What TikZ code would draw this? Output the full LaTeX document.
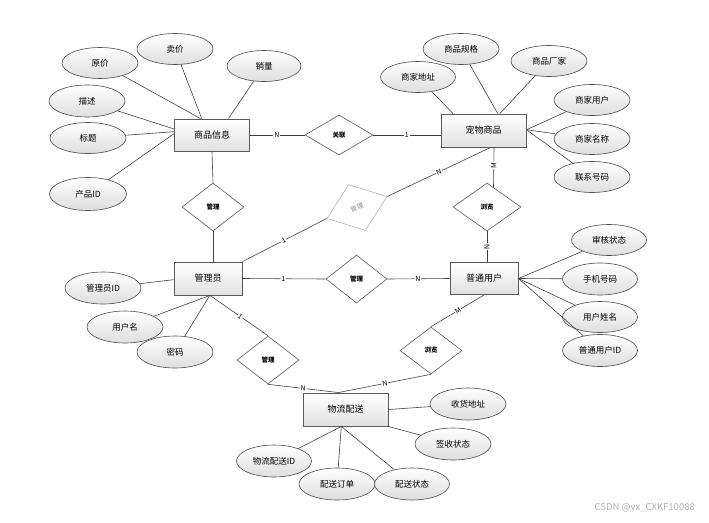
\documentclass[tikz,border=0pt]{standalone}
\usepackage{fontspec}
\setmainfont{Noto Sans CJK SC}
\usetikzlibrary{shapes.geometric,calc}
\begin{document}
\begin{tikzpicture}[x=1pt,y=-1pt,
 ent/.style={rectangle, draw=black!65, line width=0.9pt, top color=white, bottom color=black!12, minimum width=75pt, minimum height=32pt, inner sep=0pt, font=\fontsize{9}{10}\selectfont},
 attr/.style={ellipse, draw=black!70, line width=0.6pt, top color=white, bottom color=black!13, minimum width=76pt, minimum height=31pt, inner sep=0pt, font=\fontsize{8.5}{10}\selectfont},
 rel/.style={diamond, draw=black!65, line width=0.6pt, fill=white, minimum width=62pt, minimum height=48pt, inner sep=0pt, font=\fontsize{6.5}{8}\selectfont\bfseries},
 link/.style={draw=black!75, line width=0.6pt},
 card/.style={fill=white, inner sep=0.8pt, font=\fontsize{7}{8}\selectfont, sloped}
]
\useasboundingbox (0,0) rectangle (709,522);

% entities
\node[ent] (sp) at (212,135) {商品信息};
\node[ent, minimum width=85pt, minimum height=33pt] (cw) at (483.5,130.5) {宠物商品};
\node[ent, minimum width=68pt, minimum height=33pt] (gly) at (208,278.5) {管理员};
\node[ent, minimum width=68pt] (pt) at (484,278.5) {普通用户};
\node[ent, minimum width=85pt, minimum height=33pt] (wl) at (345.5,409.5) {物流配送};

% relationships
\node[rel, minimum width=68pt, minimum height=40pt] (gl) at (339,135) {关联};
\node[rel] (g1) at (213,207) {管理};
\node[rel, minimum width=64pt, minimum height=49pt, rotate=20, draw=black!30, text=black!45, font=\fontsize{6.5}{8}\selectfont] (gd) at (357,207.5) {管理};
\node[rel, minimum width=68pt] (l1) at (487,207) {浏览};
\node[rel, minimum width=61pt] (g2) at (356.5,279) {管理};
\node[rel, minimum height=47pt] (l2) at (431,350.5) {浏览};
\node[rel] (g3) at (268,360) {管理};

% attributes of 商品信息
\node[attr] (yj) at (100,63) {原价};
\node[attr] (mj) at (175,49) {卖价};
\node[attr, minimum width=74pt] (xl) at (264,66) {销量};
\node[attr, minimum height=32pt] (ms) at (87,101) {描述};
\node[attr] (bt) at (88,138) {标题};
\node[attr, minimum width=77pt, minimum height=33pt] (cp) at (88,194) {产品ID};

% attributes of 宠物商品
\node[attr, minimum width=75pt] (sjdz) at (418,77) {商家地址};
\node[attr] (spgg) at (461,49) {商品规格};
\node[attr] (spcj) at (549,61) {商品厂家};
\node[attr] (sjyh) at (592,100) {商家用户};
\node[attr] (sjmc) at (592,139) {商家名称};
\node[attr] (lxhm) at (592,177) {联系号码};

% attributes of 管理员
\node[attr, minimum height=32pt] (glyid) at (103,288) {管理员ID};
\node[attr, minimum height=32pt] (yhm) at (125,327) {用户名};
\node[attr, minimum height=32pt] (mm) at (175,352) {密码};

% attributes of 普通用户
\node[attr, minimum width=75pt] (shzt) at (609,240) {审核状态};
\node[attr, minimum width=75pt, minimum height=32pt] (sjhm) at (600,279) {手机号码};
\node[attr, minimum width=75pt] (yhxm) at (600,317) {用户姓名};
\node[attr, minimum width=75pt, minimum height=32pt] (ptid) at (600,350.5) {普通用户ID};

% attributes of 物流配送
\node[attr, minimum height=32pt] (shdz) at (468,404) {收货地址};
\node[attr, minimum height=32pt] (qszt) at (453,444) {签收状态};
\node[attr, minimum width=75pt, minimum height=32pt] (wlid) at (274,461) {物流配送ID};
\node[attr, minimum height=32pt] (psdd) at (337,484) {配送订单};
\node[attr, minimum width=75pt, minimum height=32pt] (pszt) at (412,484) {配送状态};

% attribute links
\draw[link] (yj) -- (sp.125);
\draw[link] (mj) -- (sp.122);
\draw[link] (xl) -- (sp.45);
\draw[link] (ms) -- (sp.171);
\draw[link] (bt) -- (sp.175);
\draw[link] (cp) -- (sp.178);

\draw[link] (sjdz) -- (cw.151);
\draw[link] (spgg) -- (cw.50);
\draw[link] (spcj) -- (cw.46);
\draw[link] (sjyh) -- (cw.1);
\draw[link] (sjmc) -- (cw.1);
\draw[link] (lxhm) -- (cw.1);

\draw[link] (glyid) -- (gly.182);
\draw[link] (yhm) -- (gly.276);
\draw[link] (mm) -- (gly.276);

\draw[link] (shzt) -- (pt.0);
\draw[link] (sjhm) -- (pt.0);
\draw[link] (yhxm) -- (pt.0);
\draw[link] (ptid) -- (pt.0);

\draw[link] (wl.east) -- (shdz);
\draw[link] (wl.south east) -- (qszt);
\draw[link] (wlid) -- (wl.256);
\draw[link] (psdd) -- (wl.256);
\draw[link] (pszt) -- (wl.256);

% relationship links
\draw[link] (sp.east) -- node[card, pos=0.49] {N} (gl.west);
\draw[link] (gl.east) -- node[card] {1} (gl.east -| cw.west);
\draw[link] (sp.south) -- (g1.north);
\draw[link] (g1.south) -- (g1.south |- gly.north);
\draw[link] (gly.north east) -- node[card, pos=0.49] {1} (gd.west);
\draw[link] (gd.east) -- node[card] {N} ($(cw.south)+(7,0)$);
\draw[link] ($(cw.south)+(10.5,0)$) -- node[card, pos=0.45] {M} ($(l1.north)+(6.5,4.6)$);
\draw[link] (l1.south) -- node[card] {N} (l1.south |- pt.north);
\draw[link] (gly.east) -- node[card, pos=0.49] {1} (g2.west);
\draw[link] (g2.east) -- node[card, pos=0.49] {N} (pt.west);
\draw[link] (pt.south) -- node[card, pos=0.49] {M} (l2.north);
\draw[link] (l2.south) -- node[card] {N} ($(wl.north)+(-7,0)$);
\draw[link] ($(gly.south)+(2,0)$) -- node[card, pos=0.52] {1} (g3.north);
\draw[link] (g3.south) -- node[card] {N} ($(wl.north)+(-7,0)$);

% watermark
\node[anchor=east, text=black!30, font=\fontsize{9.5}{10}\selectfont, inner sep=0pt] (wm) at (695,508) {CSDN @vx\_CXKF10088};
\end{tikzpicture}
\end{document}
